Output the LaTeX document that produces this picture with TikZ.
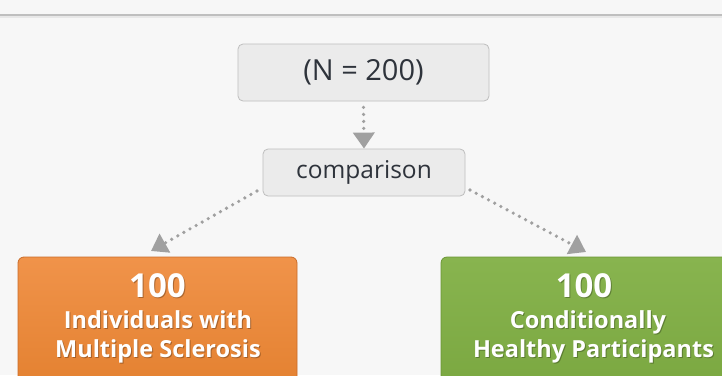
\documentclass[tikz,border=0pt]{standalone}
\usepackage{fontspec}
\setmainfont{Open Sans}
\usetikzlibrary{arrows.meta}
\definecolor{bg}{HTML}{F7F7F7}
\definecolor{boxfill}{HTML}{EBEBEB}
\definecolor{boxline}{HTML}{BEBEBE}
\definecolor{txt}{HTML}{2E333B}
\definecolor{arr}{HTML}{A0A0A0}
\definecolor{orangetop}{HTML}{F0934A}
\definecolor{orangebot}{HTML}{E3802F}
\definecolor{orangeline}{HTML}{C96C2A}
\definecolor{greentop}{HTML}{88B44F}
\definecolor{greenbot}{HTML}{7AA740}
\definecolor{greenline}{HTML}{6A9535}
\tikzset{
  graybox/.style={draw=boxline, fill=boxfill, rounded corners=5pt, line width=0.8pt, text=txt, inner sep=0pt},
  bigbox/.style={rounded corners=6pt, line width=0.8pt, inner sep=0pt},
  conn/.style={draw=arr, line width=3.6pt, dash pattern=on 0pt off 7pt, line cap=round,
    -{Triangle[width=21pt,length=16pt,fill=arr,line cap=butt]}},
  wtext/.style={text=white, anchor=base},
  stext/.style={text=black, opacity=0.28, anchor=base},
  numfont/.style={font=\bfseries\fontsize{33}{36}\selectfont},
  lblfont/.style={font=\bfseries\fontsize{23.5}{26}\selectfont}
}
\begin{document}
\begin{tikzpicture}[x=1pt,y=-1pt]
\useasboundingbox (0,0) rectangle (722,375);
\clip (0,0) rectangle (722,375);
\fill[bg] (0,0) rectangle (722,375);
\fill[gray!18] (0,15.5) rectangle (722,18);
\draw[line width=1.2pt, color=black!25] (0,15) -- (722,15);
% top boxes
\node[graybox, minimum width=251pt, minimum height=57pt, font=\fontsize{29}{32}\selectfont] (n) at (363.5,72.5) {(N = 200)};
\node[graybox, minimum width=202pt, minimum height=47pt, font=\fontsize{24.5}{27}\selectfont] (c) at (364,172.5) {comparison};
% bottom boxes
\shade[bigbox, top color=orangetop, bottom color=orangebot, draw=orangeline] (18,257) rectangle (297,395);
\node[bigbox, minimum width=279pt, minimum height=138pt, anchor=north west] (ms) at (18,257) {};
\shade[bigbox, top color=greentop, bottom color=greenbot, draw=greenline] (441,257) rectangle (760,395);
\node[bigbox, minimum width=319pt, minimum height=138pt, anchor=north west] (hp) at (441,257) {};
% text shadows
\node[stext, numfont] at (158.5,298.5) {100};
\node[stext, lblfont] at (159,329.5) {Individuals with};
\node[stext, lblfont] at (159,358.5) {Multiple Sclerosis};
\node[stext, numfont] at (585,298.5) {100};
\node[stext, lblfont] at (589,329.5) {Conditionally};
\node[stext, lblfont] at (594.5,358.5) {Healthy Participants};
% texts
\node[wtext, numfont] (ms1) at (157.5,297) {100};
\node[wtext, lblfont] (ms2) at (158,328) {Individuals with};
\node[wtext, lblfont] (ms3) at (158,357) {Multiple Sclerosis};
\node[wtext, numfont] (hp1) at (584,297) {100};
\node[wtext, lblfont] (hp2) at (588,328) {Conditionally};
\node[wtext, lblfont] (hp3) at (593.5,357) {Healthy Participants};
% connectors
\coordinate (cl) at (257,191);
\coordinate (cr) at (470,190);
\coordinate (msin) at (151,251);
\coordinate (hpin) at (586,252);
\draw[conn] ([yshift=-6pt]n.south) -- (c.north);
\draw[conn] (cl) -- (msin);
\draw[conn] (cr) -- (hpin);
\end{tikzpicture}
\end{document}
